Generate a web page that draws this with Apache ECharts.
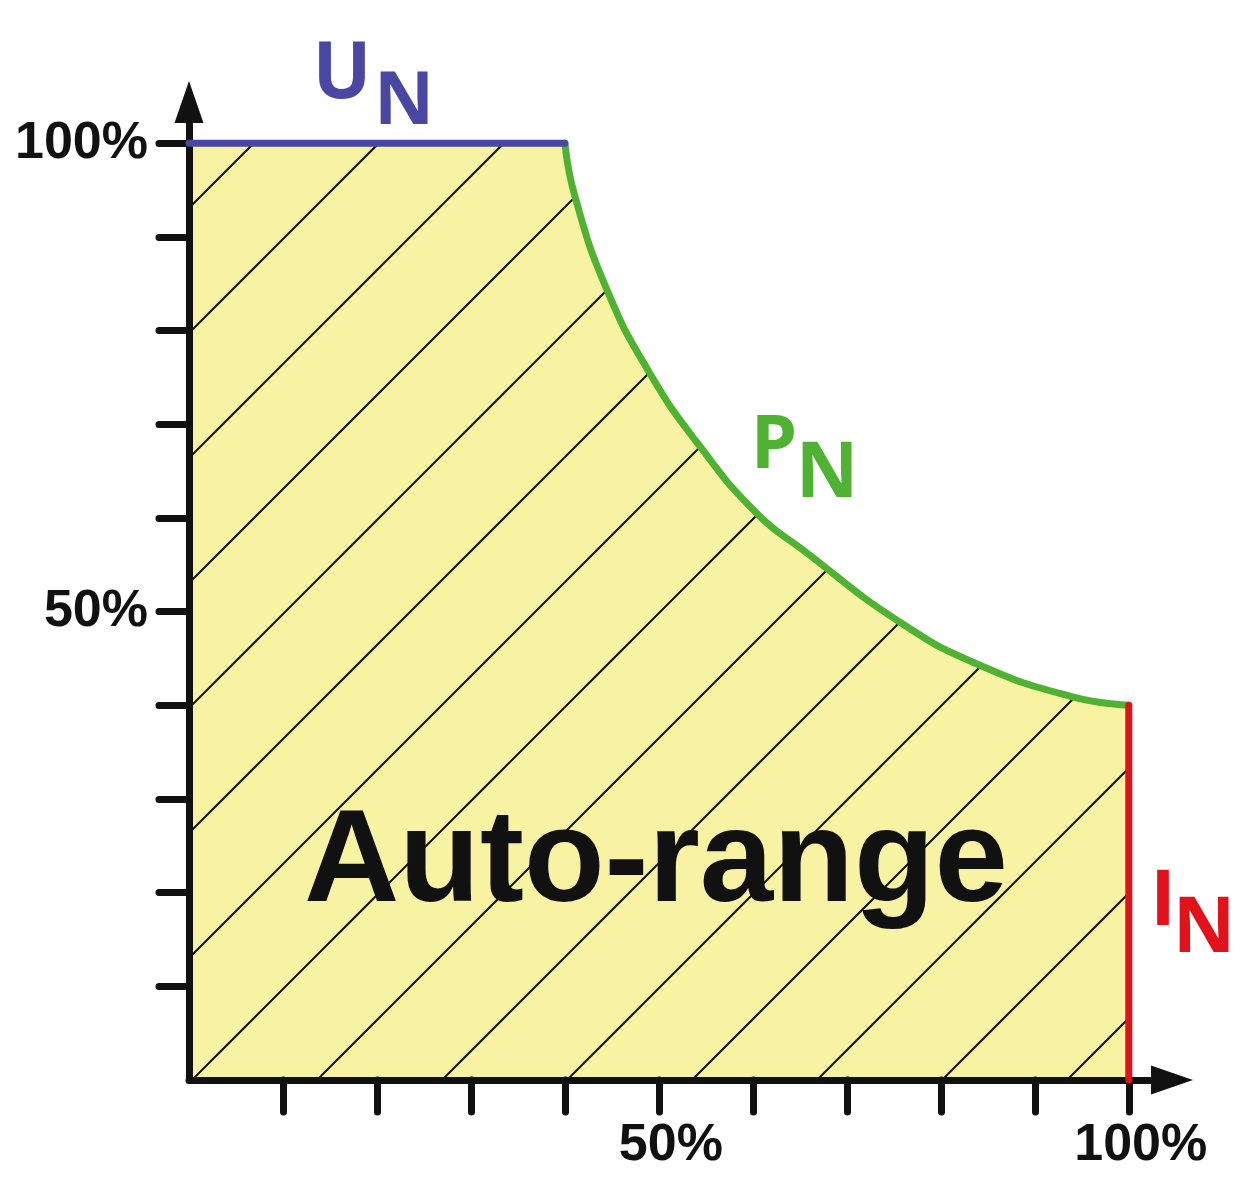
<!DOCTYPE html>
<html><head><meta charset="utf-8">
<script src="https://cdn.jsdelivr.net/npm/echarts@6/dist/echarts.min.js"></script>
<style>html,body{margin:0;padding:0;background:#fff}#c{width:1251px;height:1200px}</style>
</head><body><div id="c"></div>
<script>
// ---- data (percent of nominal) ----
const uLine  = [[0,100],[40,100]];                       // voltage limit U_N
const pCurve = [[40,100],[41.1,94.2],[44.5,84.3],[49.0,75.5],[54.4,67.6],[60.4,60.5],
                [65.3,56.6],[75.6,48.9],[84.1,44.3],[94.0,40.9],[100,40]]; // power limit P_N
const iLine  = [[100,40],[100,0]];                       // current limit I_N
const tickValues  = [10,20,30,40,50,60,70,80,90,100];
const labelValues = [50,100];

const BLUE='#4a47a3', GREEN='#4fb233', RED='#e1121b', YELLOW='#f8f3a2', INK='#111111';

function hatchTile(size, offset, bg, fg, lw){
  const c=document.createElement('canvas'); c.width=size; c.height=size;
  const g=c.getContext('2d'); g.fillStyle=bg; g.fillRect(0,0,size,size);
  g.strokeStyle=fg; g.lineWidth=lw;
  for(let k=-1;k<=2;k++){const s=offset+k*size; g.beginPath(); g.moveTo(s+6,-6); g.lineTo(-6,s+6); g.stroke();}
  return c;
}
const hatch = {image:hatchTile(125,22,YELLOW,INK,2), repeat:'repeat'};

const chart = echarts.init(document.getElementById('c'), null, {renderer:'canvas'});
const axisCommon = (tickLen) => ({
  type:'value', min:0, z:3,
  axisLine:{show:true, lineStyle:{color:INK, width:7}, symbol:['none','triangle'], symbolSize:[29,42]},
  axisTick:{show:true, customValues:tickValues, length:tickLen, lineStyle:{color:INK, width:7, cap:'round'}},
  splitLine:{show:false},
  axisLabel:{show:true, customValues:labelValues, formatter:v=>v+'%', color:INK,
    fontFamily:'Liberation Sans', fontWeight:'bold', fontSize:52}
});
const xA = axisCommon(32); xA.max=104.6; xA.axisLabel.margin=40; xA.axisLabel.padding=[0,0,0,24];
const yA = axisCommon(30); yA.max=104.4; yA.axisLabel.margin=41;

chart.setOption({
  animation:false,
  backgroundColor:'#ffffff',
  grid:{left:189, right:79, top:102, bottom:120, containLabel:false, outerBoundsMode:'none'},
  xAxis:xA, yAxis:yA,
  series:[
    {type:'line', data:uLine, z:1, symbol:'none', lineStyle:{width:0, opacity:0},
     areaStyle:{color:hatch, opacity:1}, silent:true},
    {type:'line', data:pCurve, z:1, symbol:'none', smooth:0.5, lineStyle:{width:0, opacity:0},
     areaStyle:{color:hatch, opacity:1}, silent:true},
    {type:'line', data:pCurve, z:4, symbol:'none', smooth:0.5, lineStyle:{color:GREEN, width:7, cap:'round'}},
    {type:'line', data:uLine, z:4, symbol:'none', lineStyle:{color:BLUE, width:7, cap:'round'}},
    {type:'line', data:iLine, z:4, symbol:'none', lineStyle:{color:RED, width:7, cap:'round'}}
  ],
  graphic:[
    {type:'text', z:10, x:342, y:76, style:{text:'U', font:'bold 78px "Open Sans"', fill:BLUE, align:'center', verticalAlign:'middle'}},
    {type:'text', z:10, x:404, y:103, style:{text:'N', font:'bold 74px "Open Sans"', fill:BLUE, align:'center', verticalAlign:'middle'}},
    {type:'text', z:10, x:774, y:447, style:{text:'P', font:'bold 74px "Open Sans"', fill:GREEN, align:'center', verticalAlign:'middle'}},
    {type:'text', z:10, x:827, y:475, style:{text:'N', font:'bold 77px "Open Sans"', fill:GREEN, align:'center', verticalAlign:'middle'}},
    {type:'text', z:10, x:1163, y:903, style:{text:'I', font:'bold 77px "Open Sans"', fill:RED, align:'center', verticalAlign:'middle'}},
    {type:'text', z:10, x:1204, y:930, style:{text:'N', font:'bold 77px "Open Sans"', fill:RED, align:'center', verticalAlign:'middle'}},
    {type:'text', z:10, x:304, y:865, style:{text:'Auto-range', font:'bold 132px "Liberation Sans"', fill:INK, align:'left', verticalAlign:'middle'}}
  ]
});
</script></body></html>
